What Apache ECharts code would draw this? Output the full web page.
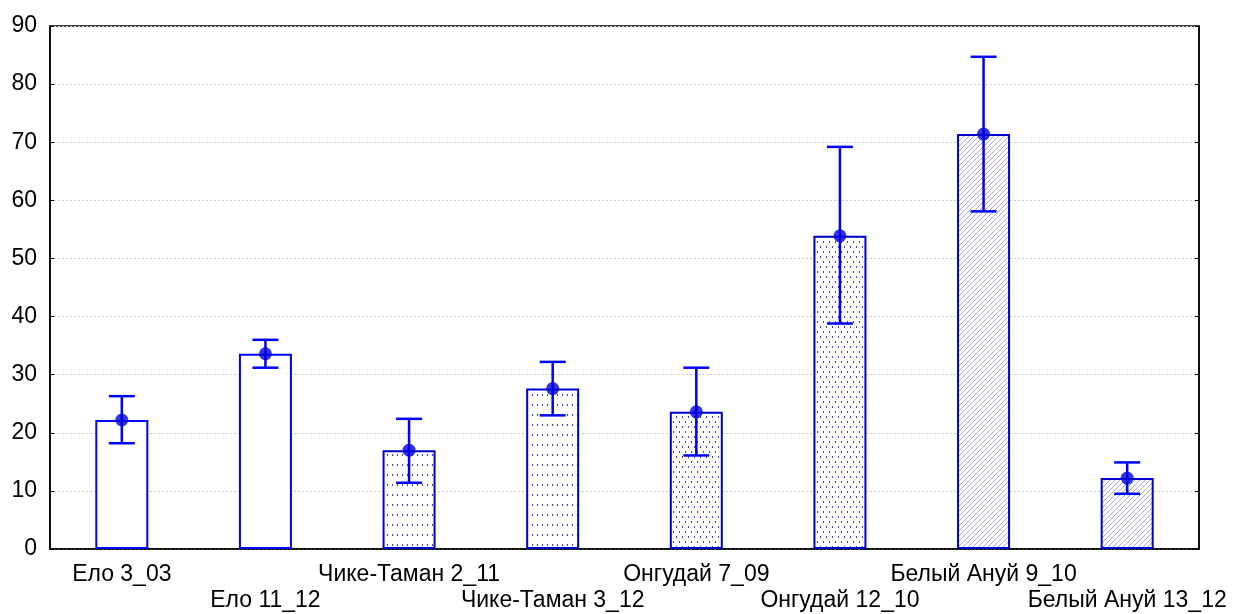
<!DOCTYPE html>
<html>
<head>
<meta charset="utf-8">
<script src="https://cdn.jsdelivr.net/npm/echarts@6/dist/echarts.min.js"></script>
<style>
  html, body { margin: 0; padding: 0; background: #fff; }
  #chart { width: 1233px; height: 614px; }
</style>
</head>
<body>
<div id="chart"></div>
<script>
// Group labels along the x axis
const categories = ['Ело 3_03', 'Ело 11_12', 'Чике-Таман 2_11', 'Чике-Таман 3_12',
  'Онгудай 7_09', 'Онгудай 12_10', 'Белый Ануй 9_10', 'Белый Ануй 13_12'];
// Mean values (bar heights and dots)
const means = [22.2, 33.6, 17.0, 27.6, 23.6, 53.9, 71.4, 12.2];
// Lower and upper ends of the whiskers
const errLow = [18.2, 31.2, 11.4, 23.0, 16.1, 38.8, 58.1, 9.5];
const errHigh = [26.3, 36.0, 22.4, 32.2, 31.2, 69.2, 84.7, 14.9];
// Fill style per bar: plain, sparse dots, dense dots, hatching
const fillKinds = ['plain', 'plain', 'dotsSparse', 'dotsSparse', 'dotsDense', 'dotsDense', 'hatch', 'hatch'];
// Y axis ticks
const yTicks = [0, 10, 20, 30, 40, 50, 60, 70, 80, 90];

function makeTile(kind) {
  const c = document.createElement('canvas');
  if (kind === 'dotsSparse') {
    c.width = 5; c.height = 10;
  } else if (kind === 'dotsDense') {
    c.width = 6; c.height = 10;
  } else {
    c.width = 5; c.height = 5;
  }
  const ctx = c.getContext('2d');
  ctx.fillStyle = '#ffffff';
  ctx.fillRect(0, 0, c.width, c.height);
  if (kind === 'dotsSparse') {
    ctx.fillStyle = '#3c3ce6';
    ctx.fillRect(2, 4, 1, 2);
  } else if (kind === 'dotsDense') {
    ctx.fillStyle = '#3c3ce6';
    ctx.fillRect(1, 1, 1, 2);
    ctx.fillRect(4, 6, 1, 2);
  } else if (kind === 'hatch') {
    ctx.fillStyle = '#a4a4f2';
    for (let i = 0; i < 5; i++) ctx.fillRect(i, 4 - i, 1, 1);
  }
  return c;
}

const barData = means.map((v, i) => {
  const kind = fillKinds[i];
  return {
    value: v,
    itemStyle: kind === 'plain'
      ? { color: '#fff', borderColor: '#0000ff', borderWidth: 2 }
      : { color: { image: makeTile(kind), repeat: 'repeat' }, borderColor: '#0000cc', borderWidth: 2 }
  };
});

const errData = categories.map((c, i) => [i, errLow[i], errHigh[i]]);

const font = '"Liberation Sans", Arial, sans-serif';

const chart = echarts.init(document.getElementById('chart'), null, { renderer: 'canvas' });
chart.setOption({
  animation: false,
  backgroundColor: '#fff',
  grid: {
    left: 50, right: 34, top: 26, bottom: 65,
    outerBoundsMode: 'none', containLabel: false,
    show: true, borderColor: '#000', borderWidth: 1.5, backgroundColor: 'transparent'
  },
  xAxis: {
    type: 'category',
    data: categories,
    axisLine: { lineStyle: { color: '#000', width: 1.5 } },
    axisTick: { inside: true, alignWithLabel: true, length: 4, lineStyle: { color: '#000' } },
    axisLabel: {
      interval: 0,
      color: '#000',
      fontFamily: font,
      fontSize: 23,
      lineHeight: 26,
      margin: 13,
      formatter: (val, idx) => (idx % 2 === 1 ? '\n' + val : val)
    }
  },
  yAxis: [{
    type: 'value',
    min: yTicks[0],
    max: yTicks[yTicks.length - 1],
    interval: 10,
    axisLine: { show: true, lineStyle: { color: '#000', width: 1.5 } },
    axisTick: { show: true, inside: true, length: 4, lineStyle: { color: '#000' } },
    axisLabel: { color: '#000', fontFamily: font, fontSize: 23, margin: 13 },
    splitLine: { show: true, lineStyle: { color: '#c8c8c8', type: [2, 2], width: 1 } }
  }, {
    type: 'value',
    position: 'right',
    min: yTicks[0],
    max: yTicks[yTicks.length - 1],
    interval: 10,
    axisLine: { show: true, lineStyle: { color: '#000', width: 1.5 } },
    axisTick: { show: true, inside: true, length: 4, lineStyle: { color: '#000' } },
    axisLabel: { show: false },
    splitLine: { show: false }
  }],
  series: [{
    type: 'bar',
    data: barData,
    barWidth: 53,
    z: 2
  }, {
    type: 'custom',
    data: errData,
    z: 3,
    renderItem: (params, api) => {
      const x = api.coord([api.value(0), 0])[0];
      const yLo = api.coord([api.value(0), api.value(1)])[1];
      const yHi = api.coord([api.value(0), api.value(2)])[1];
      const half = 13;
      const style = { stroke: '#0000ff', lineWidth: 2.5 };
      return {
        type: 'group',
        children: [
          { type: 'line', shape: { x1: x, y1: yLo, x2: x, y2: yHi }, style },
          { type: 'line', shape: { x1: x - half, y1: yHi, x2: x + half, y2: yHi }, style },
          { type: 'line', shape: { x1: x - half, y1: yLo, x2: x + half, y2: yLo }, style }
        ]
      };
    }
  }, {
    type: 'scatter',
    data: means,
    symbol: 'circle',
    symbolSize: 13,
    itemStyle: { color: '#0000dd' },
    z: 4
  }]
});
</script>
</body>
</html>
